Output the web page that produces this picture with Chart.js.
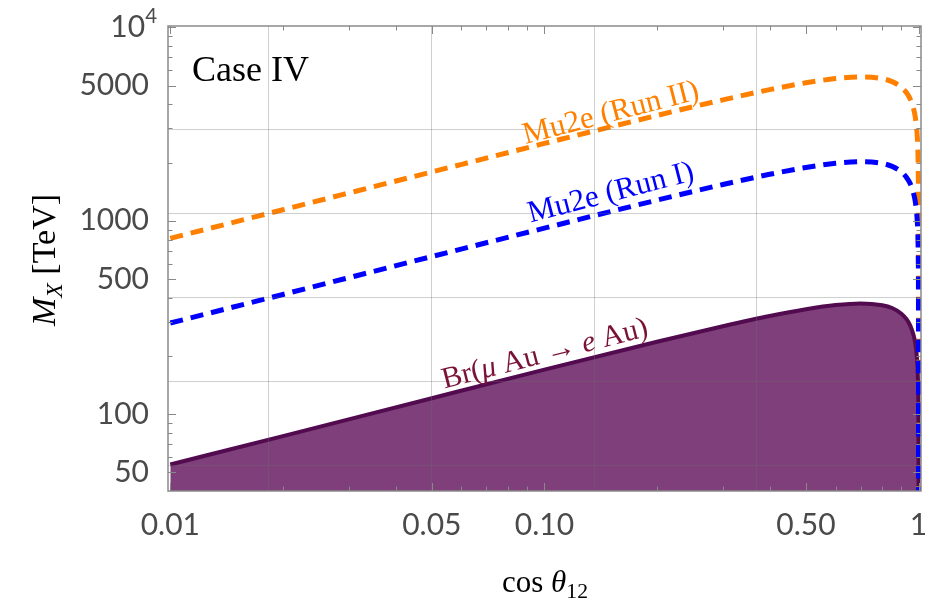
<!DOCTYPE html>
<html>
<head>
<meta charset="utf-8">
<script src="https://cdn.jsdelivr.net/npm/chart.js@4.4.1/dist/chart.umd.min.js"></script>
<style>
  html, body { margin: 0; padding: 0; background: #fff; }
</style>
</head>
<body>
<canvas id="chart" width="933" height="603"></canvas>
<script>
// cos(theta_12) sample points
const cosTheta = [0.01, 0.02, 0.05, 0.1, 0.2, 0.3, 0.4, 0.5, 0.6, 0.7, 0.8, 0.85, 0.9, 0.93, 0.95, 0.97, 0.98, 0.99, 0.995, 0.998, 0.999, 0.9999, 1];
// M_X bounds in TeV
const brAu     = [55, 77, 121, 170, 237, 285, 322, 349, 367, 374, 366, 354, 331, 309, 288, 257, 234, 198, 167, 133, 112, 63, 10];
const mu2eRun1 = [296, 416, 653, 916, 1278, 1539, 1738, 1885, 1982, 2020, 1979, 1911, 1789, 1670, 1556, 1387, 1262, 1067, 900, 717, 604, 340, 10];
const mu2eRun2 = [811, 1140, 1788, 2510, 3502, 4217, 4761, 5165, 5430, 5534, 5422, 5237, 4902, 4576, 4263, 3800, 3457, 2924, 2467, 1966, 1654, 931, 10];

// axes
const xTicks = [0.01, 0.05, 0.1, 0.5, 1];
const xTickLabels = ['0.01', '0.05', '0.10', '0.50', '1'];
const xMinorTicks = [0.02, 0.03, 0.04, 0.06, 0.07, 0.08, 0.09, 0.2, 0.3, 0.4, 0.6, 0.7, 0.8, 0.9];
const yTicks = [50, 100, 500, 1000, 5000, 10000];
const yTickLabels = ['50', '100', '500', '1000', '5000', '10^4'];
const yMinorTicks = [60, 70, 80, 90, 200, 300, 400, 600, 700, 800, 900, 2000, 3000, 4000, 6000, 7000, 8000, 9000];
const xGridLines = [0.0183, 0.0498, 0.1353, 0.3679];
const yGridLines = [54.6, 148.4, 403.4, 1096.6, 2981.0];

const serif = '"Liberation Serif", "DejaVu Serif", serif';
const sans = 'Lato, "Open Sans", sans-serif';

// draw a run of text pieces (roman / italic / sub / sup) centred on (cx, cy)
function drawRich(ctx, parts, cx, cy, size, angle, color, align) {
  ctx.save();
  ctx.translate(cx, cy);
  ctx.rotate(angle);
  ctx.fillStyle = color;
  ctx.textBaseline = 'alphabetic';
  let total = 0;
  const widths = parts.map(p => {
    const s = size * (p.scale || 1);
    ctx.font = (p.italic ? 'italic ' : '') + s + 'px ' + (p.family || serif);
    const w = ctx.measureText(p.t).width;
    total += w;
    return w;
  });
  let x = align === 'right' ? -total : (align === 'left' ? 0 : -total / 2);
  parts.forEach((p, i) => {
    const s = size * (p.scale || 1);
    ctx.font = (p.italic ? 'italic ' : '') + s + 'px ' + (p.family || serif);
    ctx.fillText(p.t, x, size * 0.35 + (p.dy || 0) * size);
    x += widths[i];
  });
  ctx.restore();
}

const framePlugin = {
  id: 'frame',
  afterDatasetsDraw(chart) {
    const {ctx, chartArea: a, scales: {x, y}} = chart;
    ctx.save();
    // grid lines
    ctx.strokeStyle = 'rgba(110,110,110,0.33)';
    ctx.lineWidth = 1;
    xGridLines.forEach(v => {
      const px = Math.round(x.getPixelForValue(v)) + 0.5;
      ctx.beginPath(); ctx.moveTo(px, a.top); ctx.lineTo(px, a.bottom); ctx.stroke();
    });
    yGridLines.forEach(v => {
      const py = Math.round(y.getPixelForValue(v)) + 0.5;
      ctx.beginPath(); ctx.moveTo(a.left, py); ctx.lineTo(a.right, py); ctx.stroke();
    });
    // ticks pointing inward, on all four sides
    ctx.strokeStyle = '#888';
    ctx.lineWidth = 1;
    const xt = xTicks.map(v => [v, 8]).concat(xMinorTicks.map(v => [v, 4.5]));
    xt.forEach(([v, len]) => {
      const px = Math.round(x.getPixelForValue(v)) + 0.5;
      ctx.beginPath();
      ctx.moveTo(px, a.bottom); ctx.lineTo(px, a.bottom - len);
      ctx.moveTo(px, a.top); ctx.lineTo(px, a.top + len);
      ctx.stroke();
    });
    const yt = yTicks.map(v => [v, 8]).concat(yMinorTicks.map(v => [v, 4.5]));
    yt.forEach(([v, len]) => {
      const py = Math.round(y.getPixelForValue(v)) + 0.5;
      ctx.beginPath();
      ctx.moveTo(a.left, py); ctx.lineTo(a.left + len, py);
      ctx.moveTo(a.right, py); ctx.lineTo(a.right - len, py);
      ctx.stroke();
    });
    // frame
    ctx.strokeStyle = '#8a8a8a';
    ctx.lineWidth = 1.5;
    ctx.strokeRect(a.left, a.top, a.right - a.left, a.bottom - a.top);
    ctx.restore();

    // 10^4 tick label with a raised exponent
    const [base, expo] = yTickLabels[yTickLabels.length - 1].split('^');
    const py4 = y.getPixelForValue(yTicks[yTicks.length - 1]);
    drawRich(ctx, [
      {t: base, family: sans},
      {t: expo, family: sans, scale: 0.68, dy: -0.45}
    ], a.left - 11, py4 - 1, 30, 0, '#4a4a4a', 'right');

    // curve labels, tilted along each curve
    const slope = (arr) => {
      const i = cosTheta.indexOf(0.1), j = cosTheta.indexOf(0.2);
      return Math.atan2(y.getPixelForValue(arr[j]) - y.getPixelForValue(arr[i]),
                        x.getPixelForValue(cosTheta[j]) - x.getPixelForValue(cosTheta[i])) - 0.01;
    };
    drawRich(ctx, [{t: 'Mu2e (Run II)'}], x.getPixelForValue(0.15), y.getPixelForValue(3700), 31, slope(mu2eRun2), '#ff8000');
    drawRich(ctx, [{t: 'Mu2e (Run I)'}], x.getPixelForValue(0.15), y.getPixelForValue(1430), 31, slope(mu2eRun1), '#0000ff');
    drawRich(ctx, [
      {t: 'Br('}, {t: '\u03bc', italic: true}, {t: ' Au \u2192 '}, {t: 'e', italic: true}, {t: ' Au)'}
    ], x.getPixelForValue(0.1), y.getPixelForValue(210), 30, slope(brAu), '#7a1238');

    // panel tag
    drawRich(ctx, [{t: 'Case IV'}], a.left + 24, a.top + 42, 36, 0, '#000', 'left');

    // axis titles
    drawRich(ctx, [
      {t: 'M', italic: true}, {t: 'X', italic: true, scale: 0.7, dy: 0.2}, {t: ' [TeV]'}
    ], 43, 260, 34, -Math.PI / 2, '#000');
    drawRich(ctx, [
      {t: 'cos '}, {t: '\u03b8', italic: true}, {t: '12', scale: 0.7, dy: 0.2}
    ], 545, 581, 31, 0, '#000');
  }
};

const pts = (vals) => cosTheta.map((c, i) => ({x: c, y: vals[i]}));

new Chart(document.getElementById('chart').getContext('2d'), {
  type: 'line',
  data: {
    datasets: [
      {
        label: 'Mu2e (Run I)',
        data: pts(mu2eRun1),
        borderColor: '#0000ff',
        borderWidth: 5,
        borderDash: [13, 8],
        fill: false,
        order: 1
      },
      {
        label: 'Mu2e (Run II)',
        data: pts(mu2eRun2),
        borderColor: '#ff8000',
        borderWidth: 5,
        borderDash: [13, 8],
        fill: false,
        order: 2
      },
      {
        label: 'Br(mu Au -> e Au)',
        data: pts(brAu),
        borderColor: '#530b50',
        backgroundColor: '#7e3f7a',
        borderWidth: 4,
        fill: 'start',
        order: 3
      }
    ]
  },
  options: {
    responsive: false,
    animation: false,
    layout: {padding: {left: 0, right: 12, top: 26, bottom: 0}},
    elements: {
      point: {radius: 0},
      line: {cubicInterpolationMode: 'monotone'}
    },
    plugins: {
      legend: {display: false},
      tooltip: {enabled: false}
    },
    scales: {
      x: {
        type: 'logarithmic',
        min: 0.009859,
        max: 1.0155,
        grid: {display: false},
        border: {display: false},
        afterBuildTicks: (axis) => { axis.ticks = xTicks.map(v => ({value: v})); },
        afterFit: (axis) => { axis.height = 112; axis.paddingLeft = 0; axis.paddingRight = 0; },
        ticks: {
          autoSkip: false,
          maxRotation: 0,
          padding: 8,
          color: '#4a4a4a',
          font: {family: sans, size: 30},
          callback: (v, i) => xTickLabels[i]
        }
      },
      y: {
        type: 'logarithmic',
        min: 40.1,
        max: 10156,
        grid: {display: false},
        border: {display: false},
        afterBuildTicks: (axis) => { axis.ticks = yTicks.map(v => ({value: v})); },
        afterFit: (axis) => { axis.width = 168; axis.paddingTop = 0; axis.paddingBottom = 0; },
        ticks: {
          autoSkip: false,
          padding: 11,
          color: '#4a4a4a',
          font: {family: sans, size: 30},
          callback: (v, i) => (yTickLabels[i].includes('^') ? '' : yTickLabels[i])
        }
      }
    }
  },
  plugins: [framePlugin]
});
</script>
</body>
</html>
